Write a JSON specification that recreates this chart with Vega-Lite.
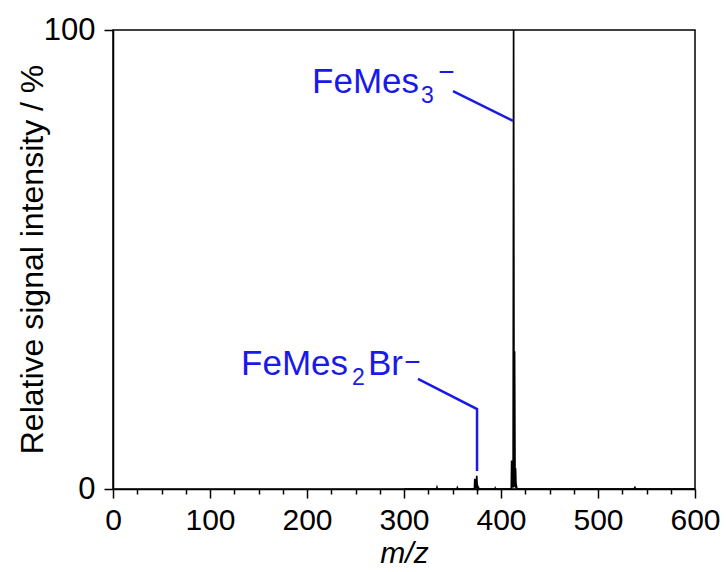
{
  "$schema": "https://vega.github.io/schema/vega-lite/v6.json",
  "width": 582,
  "height": 459,
  "autosize": {"type": "none"},
  "padding": {"left": 113, "top": 30, "right": 31, "bottom": 83},
  "background": "white",
  "config": {
    "view": {"stroke": "black", "strokeWidth": 1.5},
    "font": "Liberation Sans"
  },
  "datasets": {
    "spectrum": [
      {"mz": 300, "intensity": 0},
      {"mz": 333.6, "intensity": 0}, {"mz": 334, "intensity": 0.3}, {"mz": 334.4, "intensity": 0},
      {"mz": 354.6, "intensity": 0}, {"mz": 355, "intensity": 0.25}, {"mz": 355.4, "intensity": 0},
      {"mz": 372.6, "intensity": 0}, {"mz": 373, "intensity": 2.2}, {"mz": 373.5, "intensity": 0.4},
      {"mz": 374, "intensity": 0.6}, {"mz": 374.5, "intensity": 0.3}, {"mz": 375, "intensity": 2.9},
      {"mz": 375.5, "intensity": 0.3}, {"mz": 376, "intensity": 0.5}, {"mz": 376.5, "intensity": 0},
      {"mz": 377, "intensity": 0.2}, {"mz": 377.4, "intensity": 0},
      {"mz": 393.6, "intensity": 0}, {"mz": 394, "intensity": 0.2}, {"mz": 394.4, "intensity": 0},
      {"mz": 410.6, "intensity": 0}, {"mz": 411, "intensity": 6.2}, {"mz": 411.5, "intensity": 0.3},
      {"mz": 412, "intensity": 1.5}, {"mz": 412.5, "intensity": 0.3}, {"mz": 413, "intensity": 100},
      {"mz": 413.5, "intensity": 0.5}, {"mz": 414, "intensity": 30}, {"mz": 414.5, "intensity": 0.4},
      {"mz": 415, "intensity": 4.5}, {"mz": 415.5, "intensity": 0.2}, {"mz": 416, "intensity": 0.5},
      {"mz": 416.4, "intensity": 0},
      {"mz": 537.6, "intensity": 0}, {"mz": 538, "intensity": 0.5}, {"mz": 538.4, "intensity": 0},
      {"mz": 600, "intensity": 0}
    ],
    "leaders": [
      {"ion": "FeMes3", "step": 1, "mz": 350.5, "intensity": 86.7},
      {"ion": "FeMes3", "step": 2, "mz": 412.4, "intensity": 80.2},
      {"ion": "FeMes2Br", "step": 1, "mz": 314.4, "intensity": 24.0},
      {"ion": "FeMes2Br", "step": 2, "mz": 375.3, "intensity": 17.4},
      {"ion": "FeMes2Br", "step": 3, "mz": 375.3, "intensity": 3.9}
    ],
    "labels": [
      {"part": "main", "text": "FeMes", "mz": 205.2, "intensity": 86.3},
      {"part": "sub", "text": "3", "mz": 317.5, "intensity": 84.1},
      {"part": "charge", "text": "−", "mz": 343.8, "intensity": 88.9},
      {"part": "main", "text": "FeMes", "mz": 132.0, "intensity": 24.8},
      {"part": "sub", "text": "2", "mz": 246.4, "intensity": 22.7},
      {"part": "main", "text": "Br", "mz": 262.9, "intensity": 24.8},
      {"part": "charge", "text": "−", "mz": 308.8, "intensity": 25.8}
    ]
  },
  "encoding": {
    "x": {
      "field": "mz", "type": "quantitative",
      "scale": {"domain": [0, 600], "nice": false, "zero": false},
      "axis": {
        "values": [0, 25, 50, 75, 100, 125, 150, 175, 200, 225, 250, 275, 300, 325, 350, 375, 400, 425, 450, 475, 500, 525, 550, 575, 600],
        "labelExpr": "datum.value % 100 === 0 ? datum.label : ''",
        "tickSize": {"condition": {"test": "datum.value % 100 === 0", "value": 9}, "value": 5},
        "tickWidth": 1.5, "tickColor": "black",
        "domainColor": "black", "domainWidth": 1.5,
        "grid": false,
        "labelFontSize": 30, "labelColor": "black", "labelPadding": 7,
        "labelFlush": false, "labelOverlap": false,
        "title": "m/z", "titleFontSize": 30, "titleFontStyle": "italic",
        "titleFontWeight": "normal", "titleColor": "black",
        "titleY": 64, "titleBaseline": "middle"
      }
    },
    "y": {
      "field": "intensity", "type": "quantitative",
      "scale": {"domain": [0, 100], "nice": false},
      "axis": {
        "values": [0, 100],
        "tickSize": 9, "tickWidth": 1.5, "tickColor": "black",
        "domainColor": "black", "domainWidth": 1.5,
        "grid": false,
        "labelFontSize": 31, "labelColor": "black", "labelPadding": 9,
        "labelFlush": false,
        "title": "Relative signal intensity / %", "titleFontSize": 32,
        "titleFontWeight": "normal", "titleColor": "black",
        "titleX": -81, "titleY": 229, "titleBaseline": "middle"
      }
    }
  },
  "layer": [
    {
      "data": {"name": "spectrum"},
      "mark": {"type": "line", "color": "black", "strokeWidth": 1.7},
      "encoding": {
        "order": {"field": "mz", "type": "quantitative"}
      }
    },
    {
      "data": {"name": "leaders"},
      "mark": {"type": "line", "color": "#1a1ae8", "strokeWidth": 2.5},
      "encoding": {
        "detail": {"field": "ion"},
        "order": {"field": "step", "type": "quantitative"}
      }
    },
    {
      "data": {"name": "labels"},
      "transform": [{"filter": "datum.part === 'main'"}],
      "mark": {"type": "text", "color": "#1a1ae8", "fontSize": 35, "align": "left", "baseline": "alphabetic"},
      "encoding": {
        "text": {"field": "text"}
      }
    },
    {
      "data": {"name": "labels"},
      "transform": [{"filter": "datum.part === 'sub'"}],
      "mark": {"type": "text", "color": "#1a1ae8", "fontSize": 23, "align": "left", "baseline": "alphabetic"},
      "encoding": {
        "text": {"field": "text"}
      }
    },
    {
      "data": {"name": "labels"},
      "transform": [{"filter": "datum.part === 'charge'"}],
      "mark": {"type": "text", "color": "#1a1ae8", "fontSize": 28, "align": "center", "baseline": "alphabetic"},
      "encoding": {
        "text": {"field": "text"}
      }
    }
  ]
}
